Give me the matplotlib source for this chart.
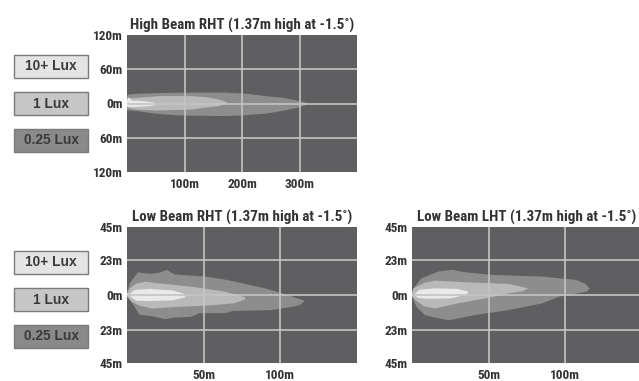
import matplotlib
matplotlib.use("Agg")
import matplotlib.pyplot as plt
from matplotlib.patches import Polygon, Rectangle
from matplotlib import font_manager


def first_font(cands):
    for c in cands:
        try:
            font_manager.findfont(font_manager.FontProperties(family=c, weight="bold"),
                                  fallback_to_default=False)
            return c
        except Exception:
            continue
    return "DejaVu Sans"


NARROW_NAME = first_font(['Liberation Sans Narrow', 'DejaVu Sans Condensed', 'Roboto Condensed',
                          'Open Sans Condensed', 'Noto Sans Condensed', 'Liberation Sans'])
NARROW = [NARROW_NAME, 'DejaVu Sans']
WIDE = [first_font(['Liberation Sans', 'DejaVu Sans']), 'DejaVu Sans']

# ---------------- data ----------------
legend_labels = ["10+ Lux", "1 Lux", "0.25 Lux"]
legend_colors = ["#e4e4e4", "#c6c6c6", "#8a8a8a"]
beam_colors = {"0.25": "#8d8d8e", "1": "#b9b9ba", "10": "#e9e9e9"}

titles = ["High Beam RHT (1.37m high at -1.5\u02da)",
          "Low Beam RHT (1.37m high at -1.5\u02da)",
          "Low Beam LHT (1.37m high at -1.5\u02da)"]

hb_xticks = [100, 200, 300]
hb_xticklabels = ["100m", "200m", "300m"]
hb_yticks = [-120, -60, 0, 60, 120]
hb_yticklabels = ["120m", "60m", "0m", "60m", "120m"]
hb_xlim = (0, 400)
hb_ylim = (-120, 120)

lb_xticks = [50, 100]
lb_xticklabels = ["50m", "100m"]
lb_yticks = [-45, -23, 0, 23, 45]
lb_yticklabels = ["45m", "23m", "0m", "23m", "45m"]
lb_xlim = (0, 150)
lb_ylim = (-45, 45)

# High beam contours (x m, y m)
hb_025_x = [0, 4, 20, 60, 102, 171, 210, 240, 270, 286, 305, 317, 310, 296, 270, 240, 200, 171, 120, 86, 50, 20, 8, 0]
hb_025_y = [14, 16, 17, 18.5, 19, 19, 17, 13, 10, 7, 3, 0.5, -3, -7.6, -13, -18, -21, -22, -21.5, -20.6, -18, -13.6, -12.5, -12]
hb_1_x = [0, 20, 55, 113, 140, 159, 172, 174, 168, 159, 130, 113, 55, 20, 5, 0]
hb_1_y = [8.8, 10, 13, 13, 11, 7, 3, 0.5, -2, -4.7, -8, -10.6, -12.3, -11, -8.8, -6]
hb_10_x = [0, 3, 6, 9, 25, 45, 53, 50, 40, 20, 5, 0]
hb_10_y = [5, 11, 8, 5, 4.5, 2, -0.5, -2.5, -4.5, -6, -6, -6]

# Low beam RHT contours
lr_025_x = [0, 2, 7, 15, 20, 26, 31, 40, 51, 65, 75, 90, 105, 111, 116, 113, 108, 94, 69, 64, 47, 42, 30, 25, 16, 8, 5, 1]
lr_025_y = [2, 8, 15, 14, 14.5, 16.5, 13.6, 13, 12.2, 10, 7.8, 4.4, 0, -2.2, -3.8, -6.5, -7.8, -10, -10.6, -12, -12, -14.4, -15, -16, -14, -13, -7.8, -2]
lr_1_x = [0, 2, 6, 12, 20, 42, 64, 77, 77, 70, 53, 31, 16, 8, 3, 0]
lr_1_y = [1, 4.4, 7.5, 8.8, 7.8, 5.5, 2.2, -1.5, -2.9, -5.5, -7, -8, -8.9, -7, -4.4, -1]
lr_10_x = [2, 5, 15, 30, 38, 38, 30, 15, 6, 2]
lr_10_y = [1, 3.3, 4, 3, 0.5, -1.5, -3.5, -4, -3.8, -1]

# Low beam LHT contours
ll_025_x = [0, 1, 6, 17, 26, 35, 52, 85, 107, 113, 116, 114, 96, 85, 63, 41, 24, 15, 8.5, 3, 1]
ll_025_y = [2, 4.4, 11, 15.5, 16.7, 15, 13.3, 12.2, 10, 7.5, 4.4, 2.2, -1.1, -5.5, -10, -13.3, -16.7, -15, -13.3, -8, -3.3]
ll_1_x = [0, 1, 8, 15, 41, 63, 76, 72, 63, 48, 30, 15, 8, 2, 0]
ll_1_y = [1, 4.4, 8, 9.5, 8.2, 7.3, 4.4, 2.5, 1.1, -2.2, -5.5, -8.9, -7.5, -3.3, -1]
ll_10_x = [2, 5, 15, 30, 37, 35, 25, 10, 4, 2]
ll_10_y = [1, 3.5, 4.4, 4, 2.2, 0, -2.2, -2.5, -2, -0.5]

# ---------------- figure ----------------
W, H = 639, 381
fig = plt.figure(figsize=(W / 100, H / 100), dpi=100)
fig.patch.set_facecolor("white")
renderer = fig.canvas.get_renderer()

BG = "#5f5f61"
GRID = "#c4c4c4"
TXT = "#333333"


def fit_size(text, family, target_px, max_size):
    t = fig.text(0, 0, text, family=family, fontweight="bold", fontsize=10)
    w = t.get_window_extent(renderer).width
    t.remove()
    return min(max_size, 10 * target_px / w)


TITLE_SIZE = fit_size(titles[0], NARROW, 225, 11)
TICK_SIZE = fit_size("120m", NARROW, 30, 9.5)
LEG_SIZE = fit_size("0.25 Lux", WIDE, 55, 10)


def px_rect(l, t, r, b):
    return [l / W, 1 - b / H, (r - l) / W, (b - t) / H]


def make_axes(rect, title, xlim, ylim, xt, xtl, yt, ytl, contours):
    ax = fig.add_axes(rect)
    ax.set_facecolor(BG)
    ax.set_xlim(*xlim)
    ax.set_ylim(*ylim)
    for key, (xs, ys) in contours:
        ax.add_patch(Polygon(list(zip(xs, ys)), closed=True,
                             facecolor=beam_colors[key], edgecolor="none", zorder=1))
    ax.set_xticks(xt)
    ax.set_xticklabels(xtl)
    ax.set_yticks(yt)
    ax.set_yticklabels(ytl)
    ax.tick_params(length=0, labelsize=TICK_SIZE, colors=TXT)
    ax.tick_params(axis="x", pad=4.5)
    ax.tick_params(axis="y", pad=3)
    for lab in ax.get_xticklabels() + ax.get_yticklabels():
        lab.set_family(NARROW)
        lab.set_fontweight("bold")
    for v in xt:
        ax.axvline(v, color=GRID, lw=1.2, zorder=3)
    for v in yt:
        if ylim[0] < v < ylim[1]:
            ax.axhline(v, color=GRID, lw=1.2, zorder=3)
    for s in ax.spines.values():
        s.set_visible(False)
    ax.set_title(title, family=NARROW, fontweight="bold", fontsize=TITLE_SIZE,
                 color=TXT, pad=4)
    return ax


make_axes(px_rect(127, 35, 357, 172), titles[0], hb_xlim, hb_ylim,
          hb_xticks, hb_xticklabels, hb_yticks, hb_yticklabels,
          [("0.25", (hb_025_x, hb_025_y)), ("1", (hb_1_x, hb_1_y)), ("10", (hb_10_x, hb_10_y))])
make_axes(px_rect(127, 227, 357, 363), titles[1], lb_xlim, lb_ylim,
          lb_xticks, lb_xticklabels, lb_yticks, lb_yticklabels,
          [("0.25", (lr_025_x, lr_025_y)), ("1", (lr_1_x, lr_1_y)), ("10", (lr_10_x, lr_10_y))])
make_axes(px_rect(412, 227, 642, 363), titles[2], lb_xlim, lb_ylim,
          lb_xticks, lb_xticklabels, lb_yticks, lb_yticklabels,
          [("0.25", (ll_025_x, ll_025_y)), ("1", (ll_1_x, ll_1_y)), ("10", (ll_10_x, ll_10_y))])

# legend boxes
for top0 in (55, 251):
    for i, (lab, col) in enumerate(zip(legend_labels, legend_colors)):
        t = top0 + i * 37
        l, r, b = 14, 88, t + 23
        fig.add_artist(Rectangle((l / W, 1 - b / H), (r - l) / W, (b - t) / H,
                                 transform=fig.transFigure, facecolor=col,
                                 edgecolor="#7a7a7a", lw=1.0))
        fig.text((l + r) / 2 / W, 1 - (t + b) / 2 / H, lab, ha="center", va="center",
                 family=WIDE, fontweight="bold", fontsize=LEG_SIZE, color="#3a3a3a")

fig.savefig("out.png", dpi=100)
